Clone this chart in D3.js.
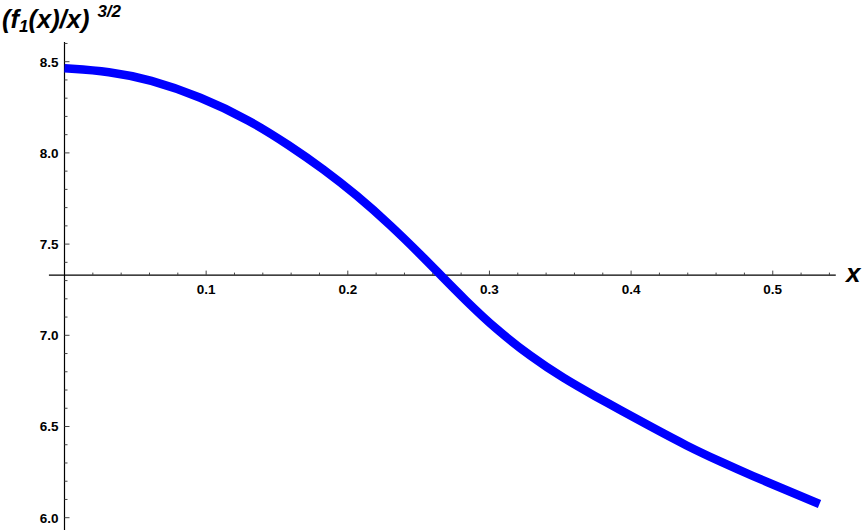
<!DOCTYPE html>
<html><head><meta charset="utf-8">
<script src="https://cdn.jsdelivr.net/npm/d3@7"></script>
<style>body{margin:0;background:#fff}svg{display:block}</style>
</head><body>
<script>
// data
const xVals = [0.000,0.032,0.060,0.096,0.131,0.159,0.183,0.206,0.230,0.253,0.265,0.282,0.305,0.329,0.352,0.376,0.392,0.416,0.439,0.463,0.486,0.510,0.533];
const yVals = [8.464,8.447,8.403,8.308,8.178,8.040,7.910,7.770,7.605,7.430,7.334,7.200,7.030,6.885,6.765,6.660,6.592,6.490,6.395,6.307,6.228,6.150,6.075];
const xTickLabels = [0.1,0.2,0.3,0.4,0.5];
const yTickLabels = [6.0,6.5,7.0,7.5,8.0,8.5];
const xMinor = d3.range(1,28).map(i=>i*0.02);
const yMinor = d3.range(60,87).map(i=>i/10);
const xAxisAt = 7.33;

const W=864,H=530;
const svg=d3.select("body").append("svg").attr("width",W).attr("height",H);
const x=d3.scaleLinear().domain([0,0.5]).range([64.5,772.75]);
const y=d3.scaleLinear().domain([6.0,8.5]).range([517.7,61.7]);
const font="'Liberation Sans', Arial, sans-serif";

// axes lines
const y0=y(xAxisAt);
svg.append("line").attr("x1",x(-0.011)).attr("x2",x(0.5445)).attr("y1",y0).attr("y2",y0).attr("stroke","#000").attr("stroke-width",1.2);
svg.append("line").attr("x1",x(0)).attr("x2",x(0)).attr("y1",42).attr("y2",H).attr("stroke","#000").attr("stroke-width",1.2);

// x ticks
const isMajorX=v=>xTickLabels.some(t=>Math.abs(t-v)<1e-9);
svg.selectAll(".xm").data(xMinor).enter().append("line")
  .attr("x1",d=>x(d)).attr("x2",d=>x(d)).attr("y1",y0).attr("y2",d=>y0-(isMajorX(d)?4.5:2.5))
  .attr("stroke","#444").attr("stroke-width",1);
svg.selectAll(".xl").data(xTickLabels).enter().append("text")
  .attr("x",d=>x(d)).attr("y",y0+18.5).attr("text-anchor","middle")
  .attr("font-family",font).attr("font-weight","bold").attr("font-size",13.5)
  .text(d=>d.toFixed(1));

// y ticks
const isMajorY=v=>yTickLabels.some(t=>Math.abs(t-v)<1e-9);
svg.selectAll(".ym").data(yMinor).enter().append("line")
  .attr("x1",x(0)).attr("x2",d=>x(0)+(isMajorY(d)?5:3)).attr("y1",d=>y(d)).attr("y2",d=>y(d))
  .attr("stroke","#444").attr("stroke-width",1);
svg.selectAll(".yl").data(yTickLabels).enter().append("text")
  .attr("x",x(0)-6).attr("y",d=>y(d)+4.8).attr("text-anchor","end")
  .attr("font-family",font).attr("font-weight","bold").attr("font-size",13.5)
  .text(d=>d.toFixed(1));

// curve
const pts=xVals.map((v,i)=>[v,yVals[i]]);
svg.append("path").datum(pts)
  .attr("d",d3.line().x(d=>x(d[0])).y(d=>y(d[1])).curve(d3.curveBasis))
  .attr("fill","none").attr("stroke","#0000ff").attr("stroke-width",8.5).attr("stroke-linecap","butt");

// axis label x
svg.append("text").attr("x",846).attr("y",282).attr("font-family",font)
  .attr("font-weight","bold").attr("font-style","italic").attr("font-size",26).text("x");

// title
const t=svg.append("text").attr("x",2).attr("y",28).attr("font-family",font)
  .attr("font-weight","bold").attr("font-style","italic").attr("font-size",25.5);
t.append("tspan").text("(f");
t.append("tspan").attr("font-size",17).attr("dy",4).text("1");
t.append("tspan").attr("dy",-4).text("(x)/x)");
t.append("tspan").attr("font-size",17).attr("dy",-11).attr("dx",8).text("3/2");
</script>
</body></html>
